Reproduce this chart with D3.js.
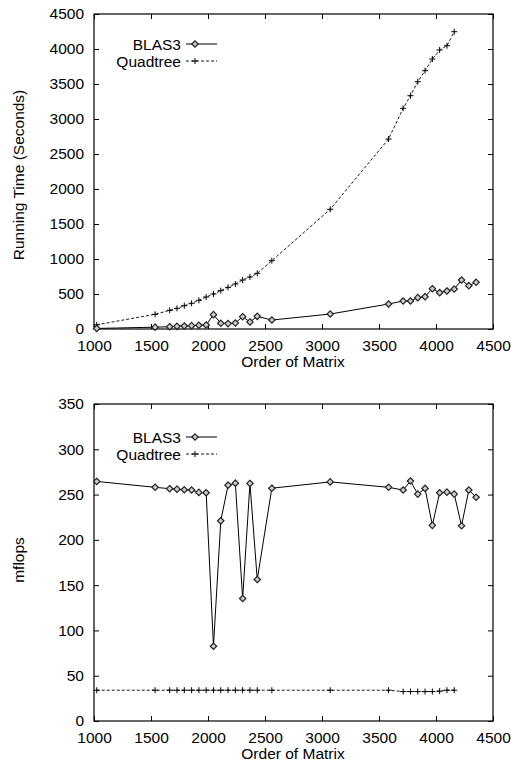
<!DOCTYPE html>
<html>
<head>
<meta charset="UTF-8">
<script src="https://d3js.org/d3.v7.min.js"></script>
<style>
  body { margin: 0; background: #fff; }
  text { font-family: "Liberation Sans", Arial, sans-serif; font-size: 15.5px; fill: #000; }
</style>
</head>
<body>
<div id="chart"></div>
<script>
// matrix orders
var blasN = [1024, 1536, 1664, 1728, 1792, 1856, 1920, 1984, 2048, 2112, 2176, 2240, 2304, 2368, 2432, 2560, 3072, 3584, 3712, 3776, 3840, 3904, 3968, 4032, 4096, 4160, 4224, 4288, 4352];
var quadN = [1024, 1536, 1664, 1728, 1792, 1856, 1920, 1984, 2048, 2112, 2176, 2240, 2304, 2368, 2432, 2560, 3072, 3584, 3712, 3776, 3840, 3904, 3968, 4032, 4096, 4160];

// running time (seconds)
var blasTime = [8, 26, 33, 38, 43, 48, 53, 58, 205, 82, 77, 85, 176, 101, 181, 128, 214, 357, 400, 400, 448, 462, 576, 519, 543, 571, 700, 619, 667];
var quadTime = [60, 210, 267, 295, 333, 367, 410, 457, 500, 548, 595, 643, 700, 743, 795, 976, 1710, 2714, 3153, 3333, 3533, 3690, 3857, 3986, 4047, 4247];

// mflops
var blasMflops = [264.5, 258, 256.5, 256, 255.3, 255, 252.4, 252, 82.5, 221, 260.4, 262.6, 135.2, 262.3, 156.2, 257, 264, 258, 255, 265, 250.5, 256.8, 216, 252, 252.7, 250.5, 215.5, 255, 247];
var quadMflops = [34, 34, 34, 34, 34, 34, 34, 34, 34, 34, 34, 34, 34, 34, 34, 34, 34, 34, 32.5, 32.5, 32.5, 32.5, 32.5, 33, 34, 34];

var xTicks = [1000, 1500, 2000, 2500, 3000, 3500, 4000, 4500];
var timeTicks = [0, 500, 1000, 1500, 2000, 2500, 3000, 3500, 4000, 4500];
var mflopsTicks = [0, 50, 100, 150, 200, 250, 300, 350];

var svg = d3.select("#chart").append("svg")
  .attr("width", 511).attr("height", 763);

function drawPanel(cfg) {
  var x = d3.scaleLinear().domain([1000, 4500]).range([94, 493]);
  var y = d3.scaleLinear().domain(cfg.yDomain).range([cfg.bottom, cfg.top]);
  var g = svg.append("g");

  // ticks on all four sides, pointing inward
  g.append("g").attr("transform", "translate(0," + cfg.bottom + ")")
    .call(d3.axisBottom(x).tickValues(xTicks).tickSizeInner(-5).tickSizeOuter(0).tickPadding(11).tickFormat(d3.format("d")))
    .call(a => a.select(".domain").remove());
  g.append("g").attr("transform", "translate(0," + cfg.top + ")")
    .call(d3.axisTop(x).tickValues(xTicks).tickSizeInner(-5).tickSizeOuter(0).tickFormat(""))
    .call(a => a.select(".domain").remove());
  g.append("g").attr("transform", "translate(94,0)")
    .call(d3.axisLeft(y).tickValues(cfg.yTicks).tickSizeInner(-5).tickSizeOuter(0).tickPadding(10).tickFormat(d3.format("d")))
    .call(a => a.select(".domain").remove());
  g.append("g").attr("transform", "translate(493,0)")
    .call(d3.axisRight(y).tickValues(cfg.yTicks).tickSizeInner(-5).tickSizeOuter(0).tickFormat(""))
    .call(a => a.select(".domain").remove());
  g.selectAll(".tick line").attr("stroke", "#000");
  g.selectAll(".tick text").style("font-family", "Liberation Sans, Arial, sans-serif").style("font-size", "15.5px").attr("fill", "#000");

  g.append("rect").attr("x", 94).attr("y", cfg.top)
    .attr("width", 399).attr("height", cfg.bottom - cfg.top)
    .attr("fill", "none").attr("stroke", "#000").attr("stroke-width", 1.2);

  var line = d3.line().x(d => x(d[0])).y(d => y(d[1]));
  var blas = d3.zip(blasN, cfg.blas);
  var quad = d3.zip(quadN, cfg.quad);

  g.append("path").datum(quad).attr("d", line)
    .attr("fill", "none").attr("stroke", "#000").attr("stroke-width", 0.9).attr("stroke-dasharray", "3,2");
  g.append("path").datum(blas).attr("d", line)
    .attr("fill", "none").attr("stroke", "#000").attr("stroke-width", 1);

  var diamond = "M0,-3.2L3.2,0L0,3.2L-3.2,0Z";
  var plus = "M-3,0H3M0,-3V3";
  g.selectAll(".pq").data(quad).enter().append("path")
    .attr("d", plus).attr("transform", d => "translate(" + x(d[0]) + "," + y(d[1]) + ")")
    .attr("stroke", "#000").attr("stroke-width", 1).attr("fill", "none");
  g.selectAll(".pb").data(blas).enter().append("path")
    .attr("d", diamond).attr("transform", d => "translate(" + x(d[0]) + "," + y(d[1]) + ")")
    .attr("stroke", "#222").attr("stroke-width", 1.2).attr("fill", "#ccc");

  // legend
  var ly = cfg.legendY;
  g.append("text").attr("x", 181).attr("y", ly + 6).attr("text-anchor", "end").text("BLAS3");
  g.append("line").attr("x1", 186).attr("x2", 217).attr("y1", ly).attr("y2", ly).attr("stroke", "#000");
  g.append("path").attr("d", diamond).attr("transform", "translate(195," + ly + ")")
    .attr("stroke", "#222").attr("stroke-width", 1.2).attr("fill", "#ccc");
  g.append("text").attr("x", 181).attr("y", ly + 23).attr("text-anchor", "end").text("Quadtree");
  g.append("line").attr("x1", 186).attr("x2", 217).attr("y1", ly + 17).attr("y2", ly + 17)
    .attr("stroke", "#000").attr("stroke-width", 0.9).attr("stroke-dasharray", "3,2");
  g.append("path").attr("d", plus).attr("transform", "translate(195," + (ly + 17) + ")").attr("stroke", "#000");

  // axis titles
  g.append("text").attr("x", 293).attr("y", cfg.bottom + 38).attr("text-anchor", "middle").text("Order of Matrix");
  g.append("text").attr("transform", "translate(24," + cfg.labelY + ") rotate(-90)")
    .attr("text-anchor", "middle").text(cfg.yLabel);
}

drawPanel({ top: 14, bottom: 329, yDomain: [0, 4500], yTicks: timeTicks, blas: blasTime, quad: quadTime, legendY: 44, labelY: 175, yLabel: "Running Time (Seconds)" });
drawPanel({ top: 404, bottom: 721, yDomain: [0, 350], yTicks: mflopsTicks, blas: blasMflops, quad: quadMflops, legendY: 437, labelY: 560, yLabel: "mflops" });
</script>
</body>
</html>
